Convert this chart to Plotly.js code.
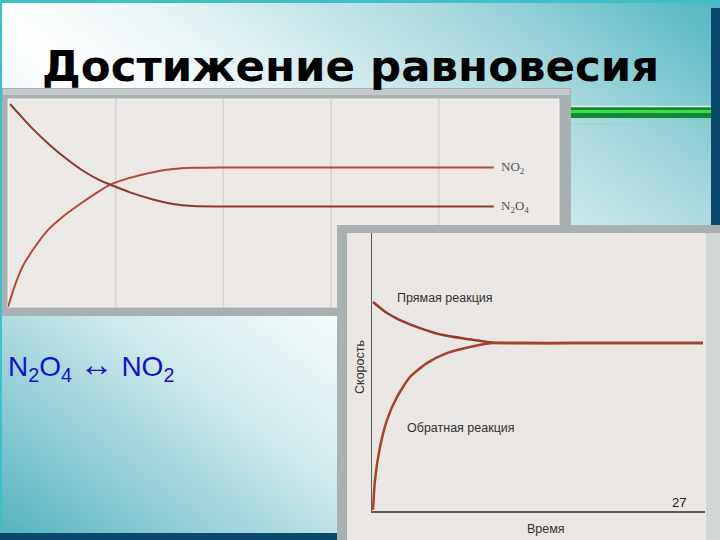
<!DOCTYPE html>
<html>
<head>
<meta charset="utf-8">
<script src="https://cdn.plot.ly/plotly-3.0.1.min.js"></script>
<style>
  html, body { margin: 0; padding: 0; }
  body {
    width: 720px; height: 540px; overflow: hidden;
    background: linear-gradient(to bottom left, #4fb6c1 0%, #a9d9de 20%, #eef7f8 42%, #ffffff 52%, #cfe9ec 72%, #52b3be 100%);
  }
  #chart { width: 720px; height: 540px; }
</style>
</head>
<body>
<div id="chart"></div>
<script>
// ---------- DATA ----------
// Top chart: concentration vs time (time units: gridline spacing = 1)
const concTime_NO2 = [0, 0.065, 0.139, 0.232, 0.362, 0.511, 0.669, 0.826, 0.947, 1.105, 1.346, 1.532, 1.718, 2.0, 3.2, 4.51];
const conc_NO2     = [0, 0.105, 0.198, 0.275, 0.365, 0.435, 0.495, 0.550, 0.587, 0.617, 0.648, 0.663, 0.669, 0.671, 0.671, 0.671];
const concTime_N2O4 = [0.019, 0.111, 0.232, 0.390, 0.548, 0.696, 0.854, 0.947, 1.133, 1.346, 1.532, 1.718, 2.0, 3.2, 4.51];
const conc_N2O4     = [0.976, 0.923, 0.855, 0.778, 0.710, 0.655, 0.609, 0.589, 0.551, 0.517, 0.495, 0.485, 0.483, 0.483, 0.483];
const gridTicks = [1, 2, 3, 4];

// Bottom chart: rate vs time
const rateTime_fwd = [0.003, 0.045, 0.084, 0.144, 0.213, 0.285, 0.345, 0.384, 0.6, 0.994];
const rate_fwd     = [0.752, 0.712, 0.687, 0.658, 0.633, 0.619, 0.608, 0.604, 0.604, 0.604];
const rateTime_rev = [0.003, 0.009, 0.024, 0.045, 0.075, 0.114, 0.165, 0.225, 0.294, 0.363, 0.6, 0.994];
const rate_rev     = [0.004, 0.112, 0.230, 0.327, 0.410, 0.482, 0.532, 0.568, 0.590, 0.604, 0.604, 0.604];

const labelNO2 = 'NO<sub>2</sub>';
const labelN2O4 = 'N<sub>2</sub>O<sub>4</sub>';
const labelFwd = 'Прямая реакция';
const labelRev = 'Обратная реакция';
const titleText = 'Достижение равновесия';
const equationText = 'N<sub>2</sub>O<sub>4</sub> <span style="font-size:34px">\u2194</span> NO<sub>2</sub>';
const yTitle2 = 'Скорость';
const xTitle2 = 'Время';
const pageNumber = '27';

// ---------- helpers (pixel -> paper) ----------
const W = 720, H = 540;
const X = px => px / W;
const Y = py => 1 - py / H;
function rect(x0, y0, x1, y1, fill, extra) {
  return Object.assign({type: 'rect', xref: 'paper', yref: 'paper', layer: 'below',
    x0: X(x0), x1: X(x1), y0: Y(y1), y1: Y(y0), fillcolor: fill, line: {width: 0}}, extra || {});
}
function hline(x0, x1, y, color, w) {
  return {type: 'line', xref: 'paper', yref: 'paper', layer: 'below',
    x0: X(x0), x1: X(x1), y0: Y(y), y1: Y(y), line: {color: color, width: w}};
}

const shapes = [
  rect(0, 0, 720, 3, '#3fbfc8'),
  rect(0, 0, 2, 540, '#3fbfc8'),
  rect(711, 8, 720, 540, '#0c4a6d'),
  rect(0, 533, 720, 540, '#0c4a6d'),
  rect(568, 107, 711, 118, '#14883a'),
  hline(568, 711, 111.5, '#3fe040', 3),
  hline(568, 711, 106.5, '#d8f5e0', 1.5),
  hline(568, 711, 124, 'rgba(150,215,140,0.6)', 1),
  // top chart frame
  rect(2, 88, 571, 316, '#a9b0b2'),
  rect(3, 89, 570, 95, '#c3c9ca'),
  rect(8, 99, 559, 307, '#ebe8e6', {line: {color: 'rgba(255,255,255,0.8)', width: 1}}),
];
gridTicks.forEach(t => shapes.push({type: 'line', xref: 'x', yref: 'paper', layer: 'below',
  x0: t, x1: t, y0: Y(307), y1: Y(99), line: {color: '#d6d3d0', width: 1.5}}));
shapes.push(
  // bottom chart frame
  rect(337, 225, 720, 540, '#a9b0b2'),
  rect(347, 233, 720, 540, '#e9e6e4'),
  rect(706, 233, 720, 540, '#d3d6d6')
);

const traces = [
  {x: concTime_NO2, y: conc_NO2, xaxis: 'x', yaxis: 'y', mode: 'lines', name: 'NO2',
   line: {color: '#b4483a', width: 2, shape: 'spline', smoothing: 0.8}, hoverinfo: 'skip'},
  {x: concTime_N2O4, y: conc_N2O4, xaxis: 'x', yaxis: 'y', mode: 'lines', name: 'N2O4',
   line: {color: '#8a3a30', width: 2, shape: 'spline', smoothing: 0.8}, hoverinfo: 'skip'},
  {x: rateTime_fwd, y: rate_fwd, xaxis: 'x2', yaxis: 'y2', mode: 'lines', name: 'fwd',
   line: {color: '#973a2c', width: 2.5, shape: 'spline', smoothing: 0.6}, hoverinfo: 'skip'},
  {x: rateTime_rev, y: rate_rev, xaxis: 'x2', yaxis: 'y2', mode: 'lines', name: 'rev',
   line: {color: '#a8412c', width: 2.5, shape: 'spline', smoothing: 0.6}, hoverinfo: 'skip'}
];

const nNO2 = conc_NO2.length - 1, nN2O4 = conc_N2O4.length - 1;
const annotations = [
  {xref: 'paper', yref: 'paper', x: X(350), y: Y(66), text: titleText, showarrow: false,
   xanchor: 'center', yanchor: 'middle',
   font: {family: 'DejaVu Sans', size: 43.5, color: '#000', weight: 'bold', shadow: 'none'}},
  {xref: 'paper', yref: 'paper', x: X(6), y: Y(365), text: equationText, showarrow: false,
   xanchor: 'left', yanchor: 'middle',
   font: {family: 'Liberation Sans, Arial', size: 28, color: '#1212c8'}},
  {xref: 'x', yref: 'y', x: concTime_NO2[nNO2], y: conc_NO2[nNO2], xshift: 5, text: labelNO2, showarrow: false,
   xanchor: 'left', yanchor: 'middle', font: {family: 'Liberation Serif, Times New Roman', size: 13, color: '#555'}},
  {xref: 'x', yref: 'y', x: concTime_N2O4[nN2O4], y: conc_N2O4[nN2O4], xshift: 5, text: labelN2O4, showarrow: false,
   xanchor: 'left', yanchor: 'middle', font: {family: 'Liberation Serif, Times New Roman', size: 13, color: '#555'}},
  {xref: 'x2', yref: 'y2', x: 0.069, y: 0.766, text: labelFwd, showarrow: false,
   xanchor: 'left', yanchor: 'middle', font: {family: 'Liberation Sans, Arial', size: 12.5, color: '#333'}},
  {xref: 'x2', yref: 'y2', x: 0.099, y: 0.299, text: labelRev, showarrow: false,
   xanchor: 'left', yanchor: 'middle', font: {family: 'Liberation Sans, Arial', size: 12.5, color: '#333'}},
  {xref: 'paper', yref: 'paper', x: X(360), y: Y(367), text: yTitle2, showarrow: false, textangle: -90,
   xanchor: 'center', yanchor: 'middle', font: {family: 'Liberation Sans, Arial', size: 12.5, color: '#333'}},
  {xref: 'paper', yref: 'paper', x: X(546), y: Y(529), text: xTitle2, showarrow: false,
   xanchor: 'center', yanchor: 'middle', font: {family: 'Liberation Sans, Arial', size: 12.5, color: '#333'}},
  {xref: 'paper', yref: 'paper', x: X(679), y: Y(502), text: pageNumber, showarrow: false,
   xanchor: 'center', yanchor: 'middle', font: {family: 'Liberation Sans, Arial', size: 13, color: '#222'}}
];

const hiddenAxis = {showgrid: false, zeroline: false, showticklabels: false, ticks: '', showline: false, fixedrange: true};
const layout = {
  width: W, height: H,
  margin: {l: 0, r: 0, t: 0, b: 0, pad: 0},
  paper_bgcolor: 'rgba(0,0,0,0)',
  plot_bgcolor: 'rgba(0,0,0,0)',
  showlegend: false,
  xaxis: Object.assign({}, hiddenAxis, {domain: [X(8), X(559)], range: [0, 551 / 107.7], anchor: 'y'}),
  yaxis: Object.assign({}, hiddenAxis, {domain: [Y(307), Y(99)], range: [0, 1], anchor: 'x'}),
  xaxis2: Object.assign({}, hiddenAxis, {domain: [X(372), X(705)], range: [0, 1], anchor: 'y2',
    showline: true, linecolor: '#5a5a5a', linewidth: 1.5}),
  yaxis2: Object.assign({}, hiddenAxis, {domain: [Y(511), Y(233)], range: [0, 1], anchor: 'x2',
    showline: true, linecolor: '#5a5a5a', linewidth: 1.5}),
  shapes: shapes,
  annotations: annotations
};

Plotly.newPlot('chart', traces, layout, {displayModeBar: false, staticPlot: true});
</script>
</body>
</html>
